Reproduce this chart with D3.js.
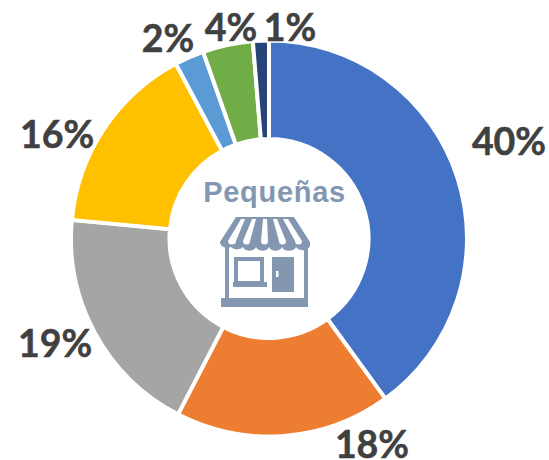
<!DOCTYPE html>
<html><head><meta charset="utf-8">
<script src="https://cdnjs.cloudflare.com/ajax/libs/d3/7.8.5/d3.min.js"></script>
<style>html,body{margin:0;padding:0;background:#fff}svg{display:block}</style>
</head><body><svg id="c" width="549" height="460"></svg>
<script>
const categories = ["A","B","C","D","E","F","G"];
const values = [40, 17.6, 18.9, 15.7, 2.4, 4.1, 1.3];
const labels = ["40%","18%","19%","16%","2%","4%","1%"];
const colors = ["#4472C4","#ED7D31","#A5A5A5","#FFC000","#5B9BD5","#70AD47","#264478"];
const labelOffsets = [[240,-98],[103,205],[-214,104],[-212,-105],[-101,-201],[-38,-212],[21,-212]];
const centerTitle = "Pequeñas";

const svg = d3.select("#c");
const cx = 269, cy = 238.5, R = 198, r = 99.5;
const g = svg.append("g").attr("transform",`translate(${cx},${cy})`);
const pie = d3.pie().sort(null).value(d=>d.v);
const arcs = pie(categories.map((c,i)=>({c,v:values[i],i})));
const arc = d3.arc().innerRadius(r).outerRadius(R);
g.selectAll("path.s").data(arcs).join("path").attr("class","s")
  .attr("d",arc).attr("fill",d=>colors[d.data.i])
  .attr("stroke","#fff").attr("stroke-width",4).attr("stroke-linejoin","miter");
g.selectAll("text.l").data(arcs).join("text").attr("class","l")
  .attr("x",d=>labelOffsets[d.data.i][0])
  .attr("y",d=>labelOffsets[d.data.i][1])
  .attr("text-anchor","middle").attr("dominant-baseline","central")
  .attr("font-family","Lato, 'Open Sans', sans-serif").attr("font-weight",700)
  .attr("font-size",37.5).attr("fill","#404040").attr("stroke","#404040").attr("stroke-width",0.5)
  .text(d=>labels[d.data.i]);

const ink = "#8497B0";
svg.append("text").attr("x",274.5).attr("y",202).attr("text-anchor","middle")
  .attr("font-family","'Liberation Sans', Arial, sans-serif").attr("font-weight",700)
  .attr("font-size",29).attr("letter-spacing",0.7).attr("fill",ink).text(centerTitle);

// storefront icon
const icon = svg.append("g").attr("transform","translate(219,216)");
icon.append("rect").attr("x",2).attr("y",82).attr("width",87).attr("height",9).attr("fill",ink);
icon.append("rect").attr("x",6).attr("y",30).attr("width",4).attr("height",53).attr("fill",ink);
icon.append("rect").attr("x",85).attr("y",30).attr("width",4).attr("height",53).attr("fill",ink);
icon.append("rect").attr("x",17).attr("y",43).attr("width",26).attr("height",24).attr("fill","#fff").attr("stroke",ink).attr("stroke-width",4);
icon.append("rect").attr("x",14).attr("y",66).attr("width",34).attr("height",5).attr("fill",ink);
icon.append("rect").attr("x",53).attr("y",41).attr("width",22).attr("height",35).attr("fill",ink);
icon.append("rect").attr("x",57).attr("y",55).attr("width",2.5).attr("height",6).attr("fill","#fff");
icon.append("path").attr("fill",ink)
  .attr("d","M17,1 H75 L91,26 V27 A7.5,6 0 0 1 77,31 A7.5,6 0 0 1 63,31 A7,6 0 0 1 50,31 A7,6 0 0 1 37,31 A7,6 0 0 1 24,31 A7.5,6 0 0 1 12,31 A7.5,6 0 0 1 1,27 V26 Z");
const stripes = ["M22,3 H26 L17,25 A4,3.5 0 0 1 9,25 Z","M33,3 H37 L31,25 A3.5,3.5 0 0 1 24,25 Z","M44,3 H48 L49,25 A3.5,3.5 0 0 1 42,25 Z","M54,3 H58 L67,25 A3.5,3.5 0 0 1 60,25 Z","M64,3 H69 L83,25 A3.5,3.5 0 0 1 76,25 Z"];
icon.selectAll("path.w").data(stripes).join("path").attr("class","w").attr("d",d=>d).attr("fill","#fff");
</script></body></html>
